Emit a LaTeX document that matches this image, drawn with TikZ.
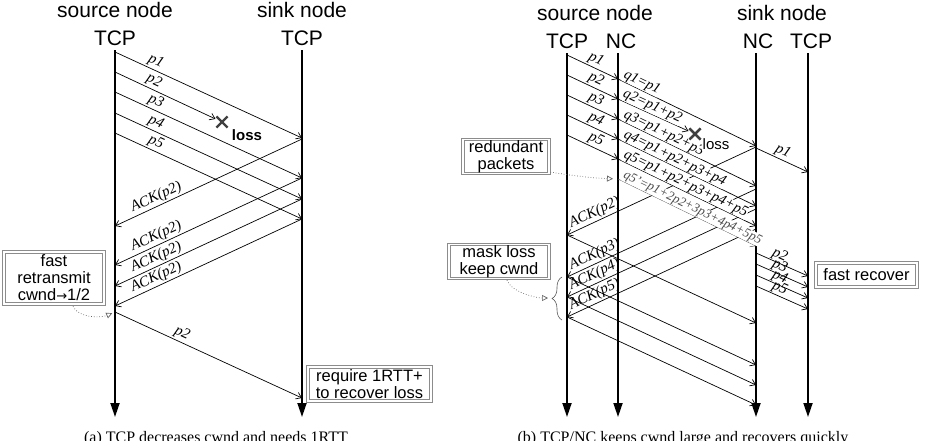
\documentclass[tikz,border=0pt]{standalone}
\usepackage{fontspec}
\setmainfont{Liberation Serif}
\newfontfamily\sansf{Liberation Sans}
\newfontfamily\djv{DejaVu Sans}
\usetikzlibrary{arrows.meta,decorations.pathreplacing,calc,shapes.misc}
\tikzset{
 tl/.style={line width=1.8pt,-{Triangle[width=9pt,length=14pt]}},
 pk/.style={line width=0.7pt,-{Straight Barb[length=5pt,width=7pt]}},
 lbl/.style={font=\fontsize{15}{15}\selectfont\itshape, sloped, above, inner sep=1.5pt},
 qlbl/.style={font=\fontsize{14.5}{14.5}\selectfont\itshape, sloped, anchor=south west, inner sep=0.4pt, fill=white},
 head/.style={font=\sansf\fontsize{21}{21}\selectfont, anchor=base, inner sep=0pt},
 infobox/.style={draw=black!45, double=white, double distance=1.6pt, line width=0.8pt, font=\sansf\fontsize{16.5}{17}\selectfont, align=center, inner sep=1pt},
 dots/.style={dotted, line width=0.7pt, draw=gray!80!black, -{Triangle[open,length=6pt,width=6pt]}},
 xm/.style={cross out, draw=gray!50!black, line width=2.2pt, minimum size=9pt, inner sep=0pt},
 captxt/.style={font=\fontsize{16}{16}\selectfont, anchor=base, inner sep=0pt},
}
\begin{document}
\begin{tikzpicture}[x=1pt,y=-1pt]
\useasboundingbox (0,0) rectangle (925,440);

% ================= LEFT =================
\node[head] (Lh1) at (115,17) {source node};
\node[head] (Lh2) at (302,17) {sink node};
\node[head] (Lh3) at (115,45) {TCP};
\node[head] (Lh4) at (302,45) {TCP};
\coordinate (LsT) at (115,50); \coordinate (LsB) at (115,417);
\coordinate (LrT) at (302,50); \coordinate (LrB) at (302,417);
\draw[tl] (LsT) -- (LsB);
\draw[tl] (LrT) -- (LrB);

\foreach \i/\y in {1/52,2/72,3/92,4/113,5/133}{
  \coordinate (La\i) at (115,\y);
  \coordinate (Lb\i) at (302,\y+86);
}
\node[xm] (Lx) at (222,122) {};
\node[font=\sansf\bfseries\fontsize{15}{15}\selectfont, inner sep=0.5pt] (Lloss) at (247,135) {loss};
\draw[pk] (La1) -- node[lbl,pos=0.2]{p1} (Lb1);
\draw[pk, shorten >=1pt] (La2) -- node[lbl,pos=0.35]{p2} (Lx);
\foreach \i in {3,4,5}{\draw[pk] (La\i) -- node[lbl,pos=0.2]{p\i} (Lb\i);}

\foreach \i/\y in {1/139,2/178,3/199,4/219}{
  \coordinate (Lc\i) at (302,\y);
  \coordinate (Ld\i) at (115,\y+87);
}
\foreach \i in {1,...,4}{\draw[pk] (Lc\i) -- node[lbl,pos=0.76]{ACK(p2)} (Ld\i);}

\coordinate (Lrt) at (115,312); \coordinate (Lre) at (302,398);
\draw[pk] (Lrt) -- node[lbl,pos=0.34]{p2} (Lre);

\node[infobox, minimum width=100pt, minimum height=52pt] (Lfr) at (54,278) {fast\\retransmit\\cwnd{\djv\fontsize{13}{13}\selectfont →}1/2};
\node[infobox, minimum width=123pt, minimum height=34pt] (Lrq) at (369.5,384) {require 1RTT+\\to recover loss};
\draw[dots, shorten >=3pt] ($(Lfr.south)+(19,2)$) .. controls +(6,12) and +(-14,6) .. (Lrt);

\node[captxt] (Lcap) at (216,442) {(a) TCP decreases cwnd and needs 1RTT};

% ================= RIGHT =================
\node[head] (Rh1) at (595,20) {source node};
\node[head] (Rh2) at (782,20) {sink node};
\node[head] (Rh3) at (567,48) {TCP};
\node[head] (Rh4) at (621,48) {NC};
\node[head] (Rh5) at (758,48) {NC};
\node[head] (Rh6) at (811,48) {TCP};
\coordinate (R1T) at (567,53); \coordinate (R1B) at (567,417);
\coordinate (R2T) at (618,53); \coordinate (R2B) at (618,417);
\coordinate (R3T) at (756,53); \coordinate (R3B) at (756,417);
\coordinate (R4T) at (808,53); \coordinate (R4B) at (808,417);
\draw[tl] (R1T) -- (R1B);
\draw[tl] (R2T) -- (R2B);
\draw[tl] (R3T) -- (R3B);
\draw[tl] (R4T) -- (R4B);

% ACKs and new packets
\foreach \i/\n/\y in {1/2/147,2/3/189,3/4/209,4/5/229}{
  \coordinate (Rc\i) at (756,\y);
  \coordinate (Rd\i) at (567,\y+88);
  \coordinate (Re\i) at (756,\y+176);
}
\foreach \i/\n in {1/2,2/3,3/4,4/5}{
  \draw[pk] (Rc\i) -- node[lbl,pos=0.835]{ACK(p\n)} (Rd\i);
  \draw[pk] (Rd\i) -- (Re\i);
}

% TCP -> NC
\foreach \i/\y in {1/55,2/75,3/95,4/115,5/135}{
  \coordinate (Ra\i) at (567,\y);
  \coordinate (Rb\i) at (618,\y+24);
  \coordinate (Rq\i) at (756,\y+91);
}
\foreach \i in {1,...,5}{\draw[pk] (Ra\i) -- node[lbl,pos=0.5]{p\i} (Rb\i);}

% NC -> NC
\node[xm] (Rx) at (695,134) {};
\draw[pk] (Rb1) -- node[qlbl,pos=0.02]{q1=p1} (Rq1);
\draw[pk, shorten >=1pt] (Rb2) -- node[qlbl,pos=0.03]{q2=p1+p2} (Rx);
\draw[pk] (Rb3) -- node[qlbl,pos=0.02]{q3=p1+p2+p3} (Rq3);
\draw[pk] (Rb4) -- node[qlbl,pos=0.02]{q4=p1+p2+p3+p4} (Rq4);
\draw[pk] (Rb5) -- node[qlbl,pos=0.02]{q5=p1+p2+p3+p4+p5} (Rq5);
\coordinate (Rq6s) at (618,179); \coordinate (Rq6e) at (756,246);
\draw[pk, draw=gray!70!black, line width=0.5pt] (Rq6s) -- node[qlbl,pos=0.02,text=gray!60!black,font=\fontsize{13}{13}\selectfont\itshape]{q5'=p1+2p2+3p3+4p4+5p5} (Rq6e);
\node[xm] at (Rx) {};
\node[font=\sansf\fontsize{15}{15}\selectfont, inner sep=0.6pt, fill=white] (Rloss) at (716,144) {loss};

% sink NC -> sink TCP
\coordinate (Rf1) at (756,148); \coordinate (Rg1) at (808,172);
\draw[pk] (Rf1) -- node[lbl,pos=0.45]{p1} (Rg1);
\foreach \i/\y in {2/253,3/264,4/275,5/286}{
  \coordinate (Rf\i) at (756,\y);
  \coordinate (Rg\i) at (808,\y+23);
  \draw[pk] (Rf\i) -- node[lbl,pos=0.4,inner sep=0.5pt]{p\i} (Rg\i);
}

% boxes
\node[infobox, minimum width=86pt, minimum height=31pt] (Rrd) at (506,156.5) {redundant\\packets};
\node[infobox, minimum width=100pt, minimum height=33pt] (Rmk) at (499,261.5) {mask loss\\keep cwnd};
\node[infobox, minimum width=101pt, minimum height=24pt] (Rfr) at (866.5,275) {fast recover};

\coordinate (Rbb) at (562,320); \coordinate (Rbt) at (562,277);
\draw[gray!70!black, line width=0.6pt, decorate, decoration={brace, amplitude=10pt}] (Rbb) -- (Rbt);
\coordinate (Rbtip) at (550,298);
\draw[dots, shorten >=2pt] ($(Rmk.south)+(8,1)$) .. controls +(4,12) and +(-14,0) .. (Rbtip);
\draw[dots, shorten >=5pt] ($(Rrd.south east)+(1,-2)$) .. controls +(25,4) and +(-25,-1) .. (Rq6s);

\node[captxt] (Rcap) at (683,442) {(b) TCP/NC keeps cwnd large and recovers quickly};
\end{tikzpicture}
\end{document}
